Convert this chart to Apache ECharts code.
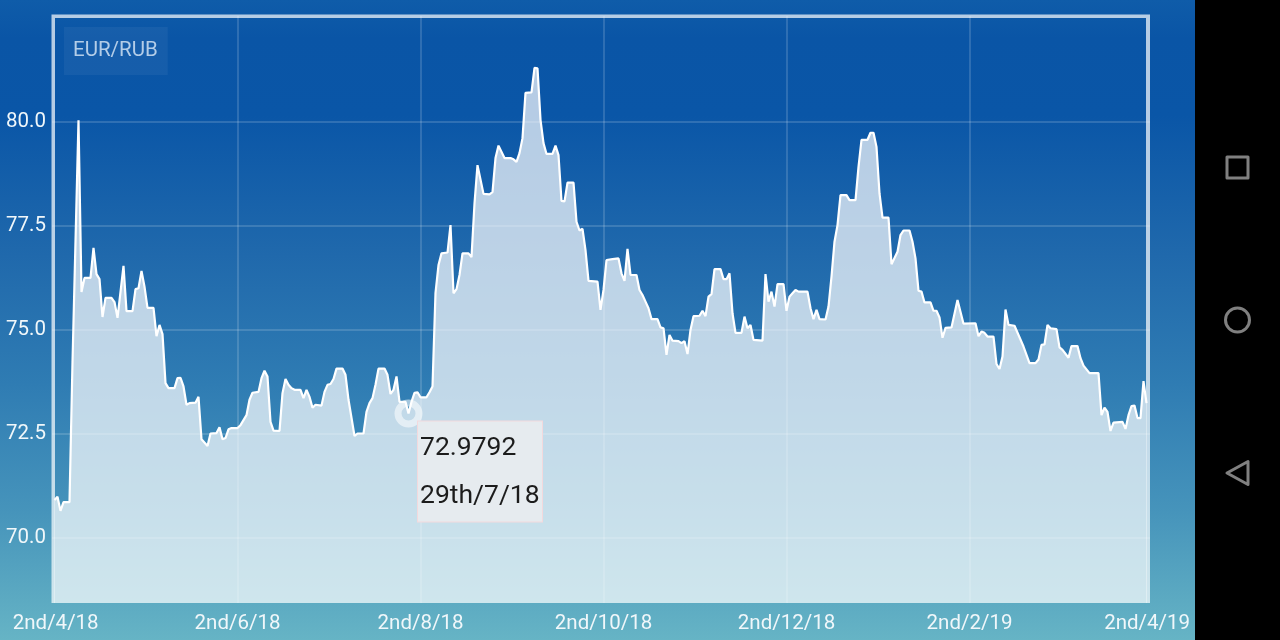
<!DOCTYPE html>
<html>
<head>
<meta charset="utf-8">
<style>html,body{margin:0;padding:0;background:#000;overflow:hidden}#c{width:1280px;height:640px}</style>
<script src="https://cdn.jsdelivr.net/npm/echarts@6/dist/echarts.min.js"></script>
</head>
<body>
<div id="c"></div>
<script>
const pairName = 'EUR/RUB';
const dayOffsets = [0,1,2,3,5,6,8,9,10,12,13,14,15,16,17,19,20,21,23,24,26,27,28,29,30,31,33,34,35,36,37,38,40,41,42,43,44,45,47,48,49,51,52,54,55,56,57,58,59,61,62,64,65,66,68,69,70,71,72,73,75,76,77,78,79,80,82,83,84,85,86,87,89,90,91,92,93,94,96,97,98,100,101,103,104,105,106,107,108,110,111,112,113,114,115,117,118,119,120,121,122,124,125,126,127,128,129,131,132,133,134,135,136,138,139,140,141,143,145,146,147,148,150,152,153,154,155,156,157,159,160,161,162,163,164,166,167,168,169,170,171,173,174,175,176,177,178,181,182,183,184,186,188,189,190,191,192,194,195,196,197,198,199,201,202,203,204,205,206,208,209,210,211,212,213,215,216,217,218,219,220,222,223,224,225,226,227,229,230,231,232,233,236,237,238,239,240,241,243,244,245,246,247,248,251,252,253,254,255,257,258,259,260,261,262,264,265,267,268,269,271,272,273,274,275,276,278,279,281,282,283,285,286,287,288,289,290,292,293,294,295,296,297,299,301,303,307,308,309,310,311,313,314,315,316,317,318,320,323,325,327,328,329,330,331,332,334,335,336,338,339,341,342,343,345,348,349,350,351,352,353,356,357,358,359,360,361,362,363,364];
const rates = [70.90,70.98,70.64,70.85,70.85,74.22,80.03,75.90,76.24,76.24,76.96,76.33,76.21,75.30,75.76,75.76,75.66,75.28,76.53,75.44,75.44,75.97,75.99,76.41,76.03,75.52,75.52,74.84,75.11,74.89,73.71,73.59,73.59,73.83,73.84,73.63,73.19,73.23,73.24,73.38,72.36,72.20,72.50,72.51,72.65,72.36,72.39,72.60,72.63,72.63,72.70,72.94,73.31,73.48,73.50,73.83,74.01,73.87,72.78,72.57,72.56,73.47,73.81,73.67,73.59,73.55,73.55,73.35,73.55,73.38,73.12,73.19,73.17,73.50,73.67,73.69,73.81,74.06,74.06,73.91,73.31,72.44,72.50,72.50,73.02,73.23,73.35,73.67,74.06,74.06,73.91,73.45,73.55,73.87,73.26,73.26,72.9792,73.26,73.48,73.49,73.37,73.37,73.49,73.63,75.88,76.55,76.83,76.85,77.51,75.87,75.97,76.31,76.83,76.83,76.74,78.03,78.95,78.26,78.25,78.30,79.12,79.42,79.12,79.12,79.09,79.03,79.24,79.60,80.69,80.70,81.29,81.28,80.04,79.48,79.22,79.22,79.42,79.19,78.09,78.08,78.53,78.53,77.59,77.38,77.42,76.91,76.17,76.15,75.47,75.95,76.67,76.69,76.71,76.35,76.17,76.94,76.31,76.31,75.95,75.83,75.67,75.51,75.25,75.25,75.05,75.03,74.39,74.87,74.73,74.72,74.67,74.72,74.41,74.99,75.32,75.33,75.45,75.32,75.79,75.85,76.45,76.45,76.21,76.21,76.35,75.39,74.92,74.92,75.31,75.03,75.11,74.75,74.73,76.33,75.67,75.91,75.55,76.09,76.09,75.45,75.79,75.87,75.95,75.91,75.91,75.51,75.25,75.47,75.25,75.24,75.55,76.27,77.11,77.51,78.23,78.23,78.11,78.11,78.91,79.56,79.56,79.73,79.73,79.39,78.27,77.69,77.69,76.57,76.87,77.27,77.38,77.38,77.11,76.71,75.93,75.91,75.65,75.65,75.45,75.45,75.29,74.80,75.04,75.05,75.71,75.14,75.15,74.84,74.95,74.92,74.83,74.83,74.17,74.05,74.35,75.48,75.11,75.09,74.59,74.19,74.19,74.28,74.63,74.64,75.11,75.03,75.01,74.57,74.51,74.32,74.60,74.60,74.31,74.13,73.95,73.95,72.94,73.12,73.02,72.56,72.76,72.78,72.61,72.94,73.16,73.17,72.87,72.87,73.76,73.23];
const gridDays = [61,122,183,244,305];
const xLabelDays = [0.4,61,122,183,244,305,364.2];
const xLabels = ['2nd/4/18','2nd/6/18','2nd/8/18','2nd/10/18','2nd/12/18','2nd/2/19','2nd/4/19'];
const yTicks = [70,72.5,75,77.5,80];
const pickedDay = 118, pickedRate = 72.9792, pickedDate = '29th/7/18';

const textFont = 'Roboto';
const frame = 'rgba(255,255,255,0.7)';
const chart = echarts.init(document.getElementById('c'), null, {renderer:'canvas'});
chart.setOption({
  animation:false,
  graphic:[
    {type:'rect',z:-10,silent:true,shape:{x:0,y:0,width:1195,height:640},style:{fill:new echarts.graphic.LinearGradient(0,0,0,1,[
      {offset:0,color:'#0f5ca9'},{offset:0.06,color:'#0a55a6'},{offset:0.18,color:'#0a56a7'},
      {offset:0.4,color:'#2069ac'},{offset:0.6,color:'#2f7cb3'},{offset:0.8,color:'#4694bb'},{offset:1,color:'#66b4c5'}])}},
    {type:'rect',z:-10,silent:true,shape:{x:1195,y:0,width:85,height:640},style:{fill:'#000'}},
    {type:'rect',z:1,silent:true,shape:{x:51.5,y:14.5,width:1098.5,height:3.5},style:{fill:frame}},
    {type:'rect',z:1,silent:true,shape:{x:51.5,y:18,width:3.5,height:585},style:{fill:frame}},
    {type:'rect',z:1,silent:true,shape:{x:1146,y:18,width:4,height:585},style:{fill:frame}},
    {type:'rect',z:1,silent:true,shape:{x:1227,y:157,width:21,height:21},style:{fill:'none',stroke:'#808080',lineWidth:3,lineJoin:'round'}},
    {type:'circle',z:1,silent:true,shape:{cx:1237.5,cy:320,r:12},style:{fill:'none',stroke:'#808080',lineWidth:3}},
    {type:'polygon',z:1,silent:true,shape:{points:[[1227,473],[1248,461.5],[1248,484.5]]},style:{fill:'none',stroke:'#808080',lineWidth:3,lineJoin:'round'}}
  ],
  title:{
    text:pairName,left:64,top:27,padding:[13,10,13,9],
    backgroundColor:'rgba(255,255,255,0.05)',
    textStyle:{color:'#b3cde8',fontFamily:textFont,fontSize:20.5,fontWeight:'normal',lineHeight:22}
  },
  grid:{left:52,top:16,width:1098,height:587,containLabel:false,show:false},
  xAxis:{
    type:'value',min:-0.8333,max:365.1667,z:3,
    axisLine:{show:false},
    axisTick:{show:false,customValues:gridDays},
    splitLine:{show:true,lineStyle:{color:'rgba(255,255,255,0.2)',width:1.5}},
    axisLabel:{
      customValues:xLabelDays,margin:10,color:'#f0f7fa',fontFamily:textFont,fontSize:20.5,
      formatter:v=>xLabels[xLabelDays.indexOf(v)]
    }
  },
  yAxis:{
    type:'value',min:68.425,max:82.536,z:3,
    axisLine:{show:false},
    axisTick:{show:false,customValues:yTicks},
    splitLine:{show:true,lineStyle:{color:'rgba(255,255,255,0.2)',width:1.5}},
    axisLabel:{customValues:yTicks,margin:6,padding:[3,0,0,0],color:'#f0f7fa',fontFamily:textFont,fontSize:20.5,formatter:v=>v.toFixed(1)}
  },
  series:[{
    type:'line',
    data:dayOffsets.map((d,i)=>[d,rates[i]]),
    showSymbol:false,symbol:'none',smooth:false,clip:true,
    lineStyle:{color:'#fff',width:2.2},
    areaStyle:{color:'#fff',opacity:0.7,origin:'start'},
    markPoint:{
      animation:false,silent:true,
      data:[{
        coord:[pickedDay,pickedRate],symbol:'circle',symbolSize:21,
        itemStyle:{color:'rgba(0,0,0,0)',borderColor:'rgba(255,255,255,0.55)',borderWidth:7},
        label:{
          show:true,position:[23.5,22],align:'left',verticalAlign:'top',
          formatter:pickedRate.toFixed(4)+'\n'+pickedDate,
          color:'#1c1c1c',fontFamily:textFont,fontSize:26.5,lineHeight:48,
          backgroundColor:'#e6ebef',borderColor:'#f3d9dd',borderWidth:1,
          padding:[3,2,1,2],width:120,overflow:'none'
        }
      }]
    }
  }]
});
</script>
</body>
</html>
